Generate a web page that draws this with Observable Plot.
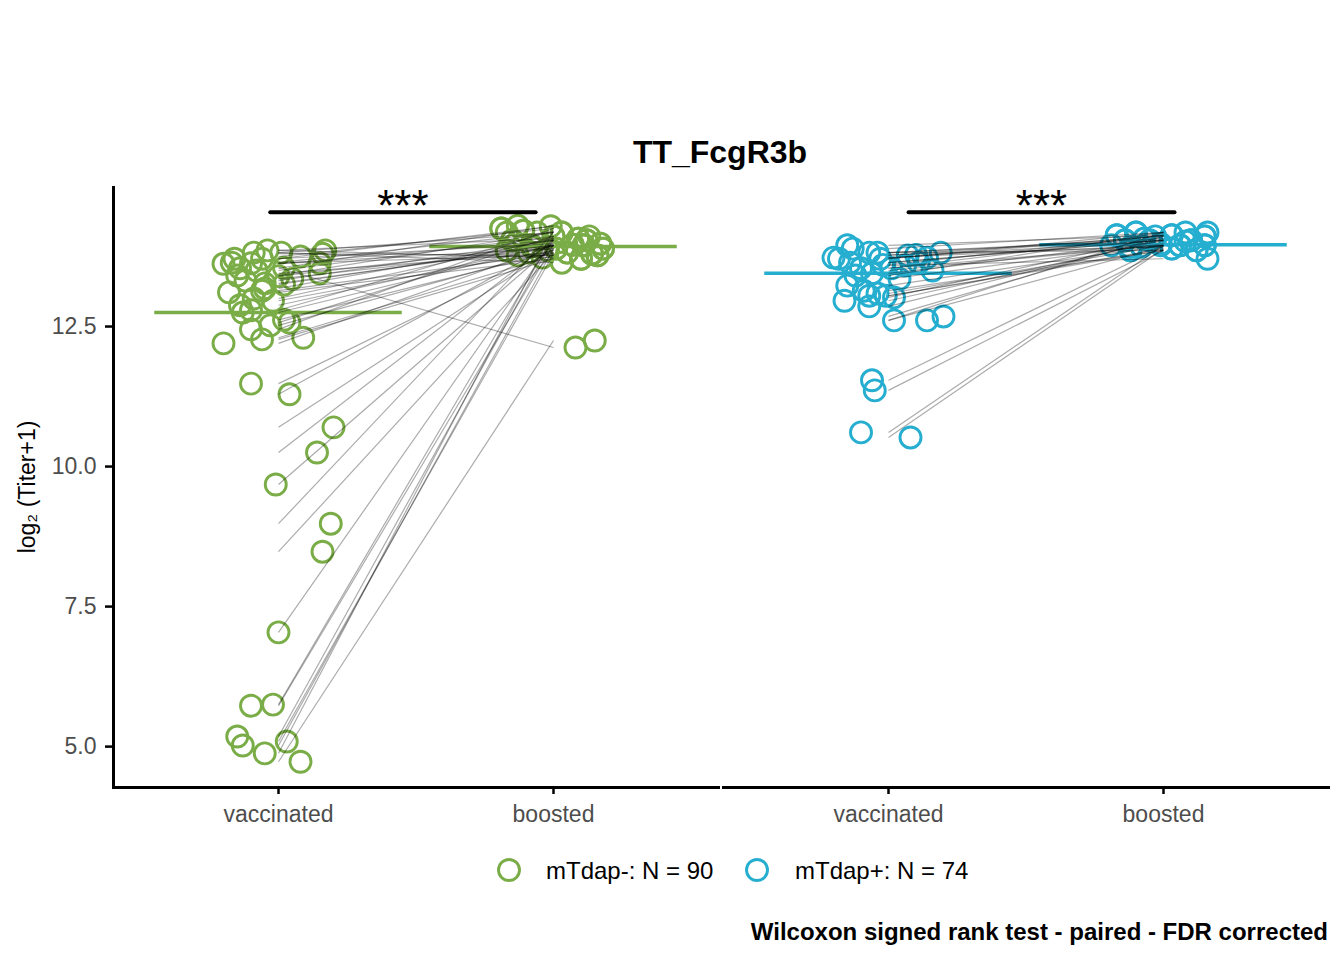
<!DOCTYPE html>
<html><head><meta charset="utf-8">
<script src="https://cdn.jsdelivr.net/npm/d3@7"></script>
<script src="https://cdn.jsdelivr.net/npm/@observablehq/plot@0.6"></script>
<style>
body{margin:0;background:#fff;font-family:"Liberation Sans",Arial,sans-serif;}
#wrap{position:relative;width:1344px;height:960px;overflow:hidden;}
#title{position:absolute;left:420px;width:600px;top:136px;text-align:center;font-size:32px;line-height:32px;font-weight:bold;color:#000;}
#chart{position:absolute;left:0;top:175px;}
.leg{position:absolute;font-size:24px;line-height:24px;color:#000;white-space:nowrap;}
.legsym{position:absolute;}
#caption{position:absolute;right:16px;top:920px;font-size:24px;line-height:24px;font-weight:bold;color:#000;white-space:nowrap;}
</style></head>
<body>
<div id="wrap">
  <div id="title">TT_FcgR3b</div>
  <div id="chart"></div>
  <div id="legend"></div>
  <div id="caption">Wilcoxon signed rank test - paired - FDR corrected</div>
</div>
<script>
// ---- categories ----
const groups = ["mTdap-", "mTdap+"];
const groupN = [90, 74];
const timepoints = ["vaccinated", "boosted"];
const colors = ["#7AAD47", "#25AECF"];
const yTicks = [5, 7.5, 10, 12.5];
const yLabel = "log\u2082 (Titer+1)";

// ---- mTdap- subjects (paired values, jitter in category units) ----
const negVac = [12.20, 11.48, 11.29, 10.70, 10.25, 9.68, 8.98, 8.48, 7.04, 5.73, 5.75, 5.18, 5.02, 4.88, 5.09, 4.73,
  12.52, 12.57, 12.30, 12.27, 12.45, 12.75,
  13.64, 13.71, 13.82, 13.86, 13.82, 13.86, 13.63, 13.45, 13.54, 13.63, 13.11, 13.32, 13.27, 13.14, 12.79, 12.88,
  13.50, 13.18, 12.96, 13.41, 13.71, 13.55, 13.35, 13.75, 13.62, 13.40, 12.62, 13.00, 13.80, 13.25];
const negVacJit = [-0.20, -0.10, 0.04, 0.20, 0.14, -0.01, 0.19, 0.16, 0.00, -0.10, -0.02, -0.15, -0.13, -0.05, 0.03, 0.08,
  -0.03, 0.04, 0.09, -0.06, -0.10, -0.13,
  -0.17, -0.16, -0.09, -0.04, 0.01, 0.17, 0.15, 0.15, -0.14, -0.10, -0.18, -0.12, -0.05, -0.06, -0.10, -0.14,
  -0.08, -0.05, -0.02, -0.15, -0.06, 0.02, 0.05, 0.08, -0.20, 0.00, 0.02, -0.09, 0.16, 0.02];
const negBoost = [13.95, 13.86, 13.98, 13.89, 14.04, 13.95, 14.18, 13.82, 14.04, 13.96, 14.11, 14.07, 13.89, 14.21, 13.80, 12.25,
  13.86, 14.11, 13.77, 13.71, 14.25, 13.95,
  14.18, 14.29, 14.18, 14.07, 13.64, 13.73, 13.77, 13.82, 14.30, 13.89, 13.71, 14.04, 13.93, 13.80, 14.21, 13.95,
  14.11, 14.04, 13.86, 14.18, 13.98, 12.125, 13.89, 14.25, 14.04, 13.95, 13.82, 14.07, 13.77, 13.96];
const negBoostJit = [0.11, -0.17, 0.17, 0.01, 0.12, -0.08, -0.06, 0.05, -0.15, 0.07, 0.00, 0.09, 0.18, -0.11, 0.14, 0.15,
  -0.02, 0.13, 0.16, 0.10, -0.19, 0.11,
  -0.17, -0.01, 0.03, 0.09, 0.03, -0.04, -0.13, -0.09, -0.13, 0.18, 0.10, 0.12, -0.08, 0.14, -0.11, 0.11,
  0.00, -0.15, -0.17, 0.03, 0.17, 0.08, 0.01, -0.19, -0.15, -0.08, 0.05, 0.09, 0.16, 0.07];

// ---- mTdap+ subjects ----
const posVac = [13.71, 13.89, 13.64, 13.54, 13.82, 13.71, 13.54, 13.59, 13.73, 13.82, 13.50, 13.23, 12.96, 12.86, 13.05, 13.05,
  13.02, 12.61, 12.61, 12.68, 11.54, 11.36, 10.61, 10.52, 13.73, 13.95, 13.82, 13.41, 13.09, 13.64, 13.77, 13.14,
  13.60, 13.35, 13.45, 13.78];
const posVacJit = [-0.18, -0.13, -0.14, -0.10, -0.04, -0.03, 0.01, 0.06, 0.14, 0.19, 0.16, -0.15, -0.16, -0.07, -0.07, -0.01,
  0.02, 0.02, 0.14, 0.20, -0.06, -0.05, -0.10, 0.08, -0.20, -0.15, -0.07, -0.12, -0.04, 0.11, 0.07, -0.09,
  -0.02, 0.04, -0.06, 0.10];
const posBoost = [14.13, 14.18, 14.04, 14.13, 14.04, 14.18, 13.95, 13.71, 13.95, 13.86, 13.95, 13.95, 14.04, 14.07, 13.89, 13.86,
  14.11, 13.93, 14.18, 14.11, 13.93, 13.86, 13.95, 13.89, 14.04, 14.13, 14.07, 14.18, 13.95, 14.04, 14.11, 13.86,
  14.13, 13.98, 14.02, 13.92];
const posBoostJit = [-0.17, -0.10, -0.05, 0.03, 0.10, 0.16, 0.15, 0.16, -0.19, -0.12, -0.01, 0.06, -0.14, -0.07, 0.03, 0.12,
  0.15, -0.08, 0.08, -0.03, -0.08, -0.12, 0.06, 0.03, -0.14, -0.17, -0.07, -0.10, 0.15, 0.10, 0.15, 0.12,
  0.03, -0.01, 0.08, -0.12];

// ---- group centre lines (vaccinated, boosted) ----
const negCentre = [12.75, 13.93];
const posCentre = [13.45, 13.96];

// ---- significance brackets ----
const sigStart = [0.97, 1.073];
const sigEnd = [1.935, 2.04];
const sigY = 14.54;
const sigLabel = "***";

// ---- build tables ----
function pairs(group, vac, vacJ, boost, boostJ) {
  return vac.map((v, i) => ({group, vac: v, vacJ: vacJ[i], boost: boost[i], boostJ: boostJ[i]}));
}
const subjects = [
  ...pairs(groups[0], negVac, negVacJit, negBoost, negBoostJit),
  ...pairs(groups[1], posVac, posVacJit, posBoost, posBoostJit)
];
const points = subjects.flatMap(s => [
  {group: s.group, t: 1, v: s.vac, j: s.vacJ},
  {group: s.group, t: 2, v: s.boost, j: s.boostJ}
]);
const centres = [negCentre, posCentre].flatMap((c, gi) => c.map((v, ti) => ({group: groups[gi], t: ti + 1, v})));
const sig = groups.map((g, i) => ({group: g, x1: sigStart[i], x2: sigEnd[i], y: sigY}));

const chart = Plot.plot({
  width: 1344,
  height: 657,
  marginTop: 11,
  marginBottom: 45,
  marginLeft: 112,
  marginRight: 16,
  style: {fontFamily: "'Liberation Sans', Arial, sans-serif", background: "white"},
  fx: {domain: groups, axis: null, paddingInner: 0.0082, paddingOuter: 0},
  x: {domain: [0.4, 2.6]},
  y: {domain: [4.27, 15.0]},
  color: {domain: groups, range: colors},
  marks: [
    Plot.dot(points, {fx: "group", x: d => d.t + d.j, y: "v", stroke: "group", r: 10.5, strokeWidth: 2.9, fill: "none"}),
    Plot.ruleY(centres, {fx: "group", y: "v", x1: d => d.t - 0.45, x2: d => d.t + 0.45, stroke: "group", strokeWidth: 3.5}),
    Plot.link(subjects, {fx: "group", x1: 1, x2: 2, y1: "vac", y2: "boost", stroke: "black", strokeOpacity: 0.33, strokeWidth: 1.2}),
    Plot.link(sig, {fx: "group", x1: "x1", x2: "x2", y1: "y", y2: "y", stroke: "black", strokeWidth: 4, strokeLinecap: "round"}),
    Plot.text(sig, {fx: "group", x: d => (d.x1 + d.x2) / 2, y: "y", text: () => sigLabel, fontSize: 44, fill: "black", dy: -5}),
    Plot.axisY({ticks: yTicks, tickFormat: d3.format(".1f"), tickSize: 8, tickPadding: 9, fontSize: 23, fill: "#4d4d4d", stroke: "black", strokeWidth: 2.5, label: null}),
    Plot.axisX({ticks: [1, 2], tickFormat: d => timepoints[d - 1], tickSize: 7, tickPadding: 11, fontSize: 23, fill: "#4d4d4d", stroke: "black", strokeWidth: 2.5, label: null}),
    Plot.frame({anchor: "bottom", stroke: "black", strokeWidth: 3}),
    Plot.ruleX([{group: groups[0], x: 0.4}], {fx: "group", x: "x", stroke: "black", strokeWidth: 3}),
    Plot.text([{group: groups[0]}], {fx: "group", frameAnchor: "left", textAnchor: "middle", text: () => yLabel, rotate: -90, dx: -86, fontSize: 23, fill: "black"})
  ]
});
document.getElementById("chart").appendChild(chart);

// ---- legend ----
const legend = document.getElementById("legend");
const legX = [509, 757];
const legTextX = [546, 795];
groups.forEach((g, i) => {
  const sym = document.createElement("div");
  sym.className = "legsym";
  sym.style.left = (legX[i] - 14) + "px";
  sym.style.top = (870 - 14) + "px";
  sym.innerHTML = `<svg width="28" height="28"><circle cx="14" cy="14" r="10.5" fill="none" stroke="${colors[i]}" stroke-width="2.9"/></svg>`;
  legend.appendChild(sym);
  const t = document.createElement("div");
  t.className = "leg";
  t.style.left = legTextX[i] + "px";
  t.style.top = "859px";
  t.textContent = `${g}: N = ${groupN[i]}`;
  legend.appendChild(t);
});
</script>
</body></html>
